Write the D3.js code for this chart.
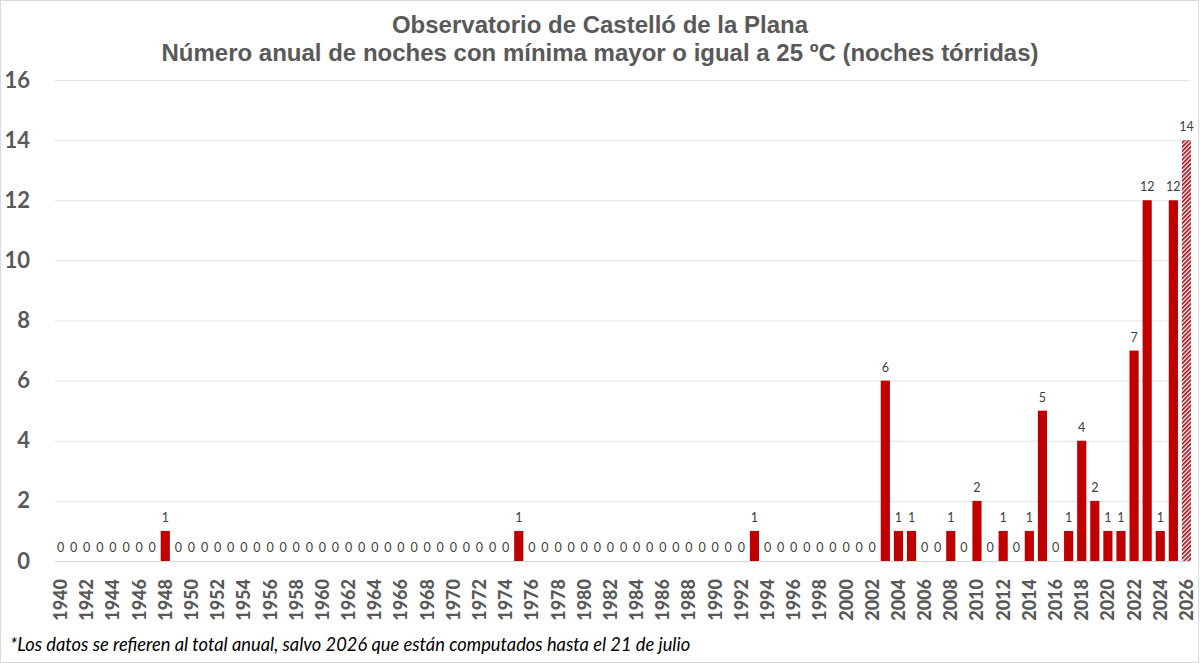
<!DOCTYPE html>
<html>
<head>
<meta charset="utf-8">
<script src="https://cdn.jsdelivr.net/npm/d3@7"></script>
<style>
  html, body { margin: 0; padding: 0; background: #fff; }
  svg { display: block; }
</style>
</head>
<body>
<div id="chart"></div>
<script>
// datos: noches con mínima >= 25 ºC
const years = d3.range(1940, 2027);
const nights = [
  0, 0, 0, 0, 0, 0, 0, 0, 1, 0,      // 1940-1949
  0, 0, 0, 0, 0, 0, 0, 0, 0, 0,      // 1950-1959
  0, 0, 0, 0, 0, 0, 0, 0, 0, 0,      // 1960-1969
  0, 0, 0, 0, 0, 1, 0, 0, 0, 0,      // 1970-1979
  0, 0, 0, 0, 0, 0, 0, 0, 0, 0,      // 1980-1989
  0, 0, 0, 1, 0, 0, 0, 0, 0, 0,      // 1990-1999
  0, 0, 0, 6, 1, 1, 0, 0, 1, 0,      // 2000-2009
  2, 0, 1, 0, 1, 5, 0, 1, 4, 2,      // 2010-2019
  1, 1, 7, 12, 1, 12, 14             // 2020-2026
];
const partialYear = 2026;
const yTicks = [0, 2, 4, 6, 8, 10, 12, 14, 16];
const xTickYears = years.filter(y => y % 2 === 0);

const titleLines = [
  "Observatorio de Castelló de la Plana",
  "Número anual de noches con mínima mayor o igual a 25 ºC (noches tórridas)"
];
const footnote = "*Los datos se refieren al total anual, salvo 2026 que están computados hasta el 21 de julio";

const width = 1200;
const height = 663;
const margin = { top: 80, right: 7, bottom: 102, left: 54 };

const data = years.map((y, i) => ({ year: y, value: nights[i] }));

const svg = d3
  .select("#chart")
  .append("svg")
  .attr("width", width)
  .attr("height", height);

svg
  .append("rect")
  .attr("x", 0.5)
  .attr("y", 0.5)
  .attr("width", width - 2)
  .attr("height", height - 1)
  .attr("fill", "#fff")
  .attr("stroke", "#d9d9d9");

// patrón rayado para el año incompleto
const pattern = svg
  .append("defs")
  .append("pattern")
  .attr("id", "hatch")
  .attr("patternUnits", "userSpaceOnUse")
  .attr("width", 3)
  .attr("height", 3)
  .attr("patternTransform", "rotate(45)");
pattern.append("rect").attr("width", 3).attr("height", 3).attr("fill", "#fff");
pattern.append("rect").attr("width", 1.7).attr("height", 3).attr("fill", "#a50f1e");

const x = d3
  .scaleBand()
  .domain(years)
  .range([margin.left, width - margin.right])
  .paddingInner(0.3)
  .paddingOuter(0.15);

const y = d3
  .scaleLinear()
  .domain([0, 16])
  .range([height - margin.bottom, margin.top]);

// rejilla
svg
  .append("g")
  .attr("class", "grid")
  .selectAll("line")
  .data(yTicks)
  .enter()
  .append("line")
  .attr("x1", margin.left + 1)
  .attr("x2", width - margin.right - 3)
  .attr("y1", (d) => y(d) + 0.5)
  .attr("y2", (d) => y(d) + 0.5)
  .attr("stroke", (d) => (d === 0 ? "#d9d9d9" : "#e3e3e3"))
  .attr("stroke-width", 1);

// eje Y
const yAxis = svg
  .append("g")
  .attr("transform", `translate(30,0)`)
  .call(d3.axisLeft(y).tickValues(yTicks).tickSize(0).tickPadding(0));
yAxis.select(".domain").remove();
yAxis
  .selectAll("text")
  .attr("font-family", "Lato, sans-serif")
  .attr("font-weight", "bold")
  .attr("font-size", "22px")
  .attr("fill", "#595959");

// eje X
const xAxis = svg
  .append("g")
  .attr("transform", `translate(0,${height - margin.bottom})`)
  .call(d3.axisBottom(x).tickValues(xTickYears).tickSize(0).tickPadding(0));
xAxis.select(".domain").remove();
xAxis
  .selectAll("text")
  .attr("font-family", "Lato, sans-serif")
  .attr("font-weight", 900)
  .attr("font-size", "18px")
  .attr("fill", "#595959")
  .attr("text-anchor", "end")
  .attr("dy", "0.36em")
  .attr("transform", "translate(0,18) rotate(-90)");

// barras
svg
  .append("g")
  .attr("class", "bars")
  .selectAll("rect")
  .data(data.filter((d) => d.value > 0))
  .enter()
  .append("rect")
  .attr("x", (d) => x(d.year))
  .attr("y", (d) => y(d.value))
  .attr("width", x.bandwidth())
  .attr("height", (d) => y(0) - y(d.value))
  .attr("fill", (d) => (d.year === partialYear ? "url(#hatch)" : "#c00000"));

// etiquetas de datos
svg
  .append("g")
  .attr("class", "labels")
  .selectAll("text")
  .data(data)
  .enter()
  .append("text")
  .attr("x", (d) => x(d.year) + x.bandwidth() / 2)
  .attr("y", (d) => y(d.value) - 9)
  .attr("text-anchor", "middle")
  .attr("font-family", "Lato, sans-serif")
  .attr("font-size", "12.5px")
  .attr("fill", "#404040")
  .text((d) => d.value);

// título
svg
  .append("g")
  .selectAll("text")
  .data(titleLines)
  .enter()
  .append("text")
  .attr("x", 600)
  .attr("y", (d, i) => 33 + i * 28)
  .attr("text-anchor", "middle")
  .attr("font-family", "Liberation Sans, Arial, sans-serif")
  .attr("font-weight", "bold")
  .attr("font-size", "24px")
  .attr("fill", "#595959")
  .text((d) => d);

// nota
svg
  .append("text")
  .attr("x", 10)
  .attr("y", 651)
  .attr("font-family", "Lato, sans-serif")
  .attr("font-style", "italic")
  .attr("font-size", "18.3px")
  .attr("fill", "#000")
  .text(footnote);
</script>
</body>
</html>
